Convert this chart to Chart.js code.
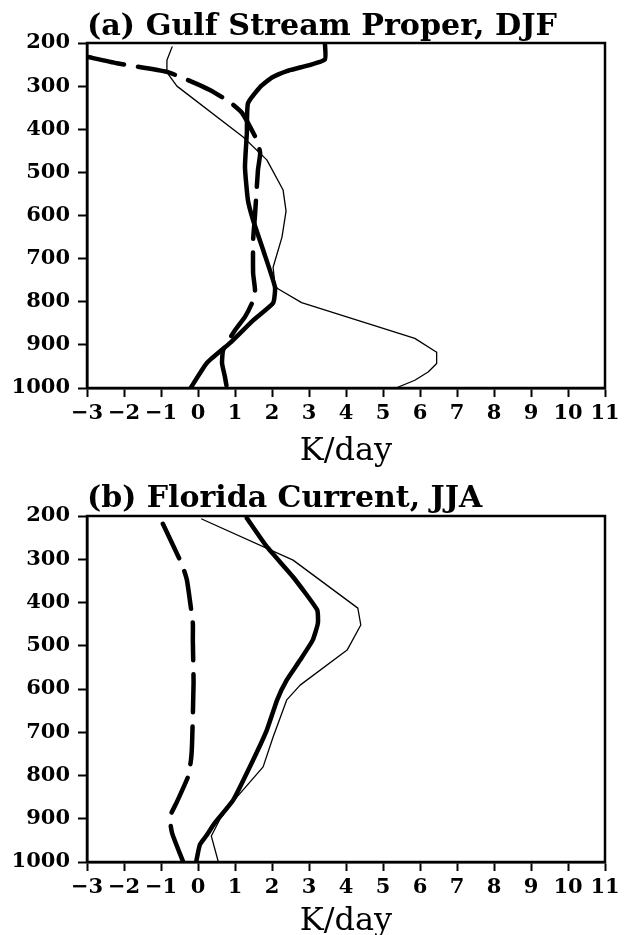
<!DOCTYPE html>
<html>
<head>
<meta charset="utf-8">
<script src="https://cdn.jsdelivr.net/npm/chart.js@4.4.1/dist/chart.umd.min.js"></script>
<style>
  body { margin: 0; background: #fff; }
  canvas { display: block; }
</style>
</head>
<body>
<canvas id="panel-a" width="627" height="470"></canvas>
<canvas id="panel-b" width="627" height="465"></canvas>
<script>
// axis ticks
const heatTicks = [-3, -2, -1, 0, 1, 2, 3, 4, 5, 6, 7, 8, 9, 10, 11];
const presTicks = [200, 300, 400, 500, 600, 700, 800, 900, 1000];
const panelTitles = ['(a) Gulf Stream Proper, DJF', '(b) Florida Current, JJA'];
const unitLabel = 'K/day';

// (a) Gulf Stream Proper, DJF  -- pressure (hPa) / heating (K/day)
const gsThickP = [200, 238, 255, 265, 280, 302, 340, 409, 488, 565, 611, 680, 766, 803, 843, 896, 942, 1000];
const gsThickK = [3.43, 3.43, 2.85, 2.4, 2.0, 1.68, 1.35, 1.32, 1.27, 1.35, 1.49, 1.76, 2.08, 2.03, 1.49, 0.86, 0.24, -0.2];
const gsThinP = [209, 240, 268, 300, 418, 471, 541, 590, 650, 720, 762, 770, 802, 885, 917, 943, 963, 982, 1000];
const gsThinK = [-0.7, -0.84, -0.84, -0.57, 1.22, 1.86, 2.3, 2.38, 2.27, 2.03, 2.08, 2.16, 2.8, 5.86, 6.45, 6.45, 6.22, 5.86, 5.35];
const gsDashP = [232, 247, 267, 290, 309, 337, 362, 425, 455, 495, 600, 657, 734, 773, 803, 835, 866, 912, 943, 975, 1000];
const gsDashK = [-3.0, -2.19, -0.84, -0.16, 0.32, 0.86, 1.19, 1.59, 1.68, 1.62, 1.54, 1.49, 1.49, 1.54, 1.46, 1.27, 1.0, 0.68, 0.65, 0.73, 0.78];

// (b) Florida Current, JJA
const fcThickP = [205, 271, 341, 417, 448, 487, 533, 579, 625, 695, 764, 857, 910, 940, 960, 1000];
const fcThickK = [1.32, 1.86, 2.57, 3.22, 3.24, 3.1, 2.76, 2.4, 2.14, 1.86, 1.49, 0.95, 0.45, 0.22, 0.05, -0.05];
const fcThinP = [207, 302, 413, 452, 510, 591, 625, 711, 780, 850, 900, 940, 1000];
const fcThinK = [0.1, 2.57, 4.32, 4.4, 4.03, 2.76, 2.4, 2.03, 1.76, 1.05, 0.6, 0.36, 0.55];
const fcDashP = [218, 313, 348, 448, 487, 586, 725, 764, 803, 861, 896, 933, 1000];
const fcDashK = [-0.95, -0.43, -0.3, -0.14, -0.14, -0.12, -0.16, -0.19, -0.27, -0.57, -0.76, -0.7, -0.4];

const pts = (p, k) => p.map((v, i) => ({ x: k[i], y: v }));

function line(p, k, width, dash, tension) {
  return {
    data: pts(p, k),
    showLine: true,
    borderColor: '#000',
    borderWidth: width,
    borderDash: dash || [],
    borderCapStyle: 'round',
    borderJoinStyle: 'round',
    pointRadius: 0,
    tension: tension || 0,
  };
}

const frame = {
  id: 'frame',
  afterDraw(chart, args, o) {
    const { ctx, chartArea: a } = chart;
    ctx.save();
    ctx.strokeStyle = '#000';
    ctx.lineWidth = 2.5;
    ctx.strokeRect(a.left, a.top, a.right - a.left, a.bottom - a.top);
    ctx.fillStyle = '#000';
    ctx.textBaseline = 'alphabetic';
    ctx.font = 'bold 28px "DejaVu Serif"';
    const fs = 28 * o.titleWidth / ctx.measureText(o.title).width;
    ctx.font = `bold ${fs.toFixed(1)}px "DejaVu Serif"`;
    ctx.textAlign = 'left';
    ctx.fillText(o.title, a.left, o.titleY);
    ctx.font = '32px "DejaVu Serif"';
    ctx.textAlign = 'center';
    ctx.fillText(unitLabel, (a.left + a.right) / 2, o.unitY);
    ctx.restore();
  },
};

function makePanel(id, datasets, title, titleWidth, top, bottom, titleY, unitY) {
  const el = document.getElementById(id);
  const tickFont = { family: 'DejaVu Serif', size: 21, weight: 'bold' };
  const grid = { drawOnChartArea: false, drawTicks: true, tickLength: 9, tickColor: '#000', tickWidth: 2 };
  new Chart(el, {
    type: 'scatter',
    data: { datasets },
    plugins: [frame],
    options: {
      responsive: false,
      animation: false,
      devicePixelRatio: 1,
      layout: { padding: { top, right: 22, left: 0, bottom: 0 } },
      plugins: {
        legend: { display: false },
        tooltip: { enabled: false },
        frame: { title, titleWidth, titleY, unitY },
      },
      scales: {
        x: {
          type: 'linear', min: -3, max: 11,
          afterBuildTicks: s => { s.ticks = heatTicks.map(v => ({ value: v })); },
          afterFit: s => { s.height = el.height - bottom; },
          ticks: { font: tickFont, color: '#000', padding: 4, maxRotation: 0, autoSkip: false,
                   callback: v => String(v).replace('-', '\u2212') },
          grid, border: { color: '#000', width: 2.5 },
        },
        y: {
          type: 'linear', min: 200, max: 1000, reverse: true,
          afterBuildTicks: s => { s.ticks = presTicks.map(v => ({ value: v })); },
          afterFit: s => { s.width = 87; },
          ticks: { font: tickFont, color: '#000', padding: 8, autoSkip: false, callback: v => String(v) },
          grid, border: { color: '#000', width: 2.5 },
        },
      },
    },
  });
}

makePanel('panel-a', [
  line(gsThinP, gsThinK, 1.3),
  line(gsThickP, gsThickK, 4.5, null, 0.15),
  line(gsDashP, gsDashK, 4.5, [38, 14], 0.15),
], panelTitles[0], 470, 43, 388, 35, 460);

makePanel('panel-b', [
  line(fcThinP, fcThinK, 1.3),
  line(fcThickP, fcThickK, 4.5, null, 0.15),
  line(fcDashP, fcDashK, 4.5, [38, 14], 0.15),
], panelTitles[1], 395, 46, 392, 37, 460);
</script>
</body>
</html>
